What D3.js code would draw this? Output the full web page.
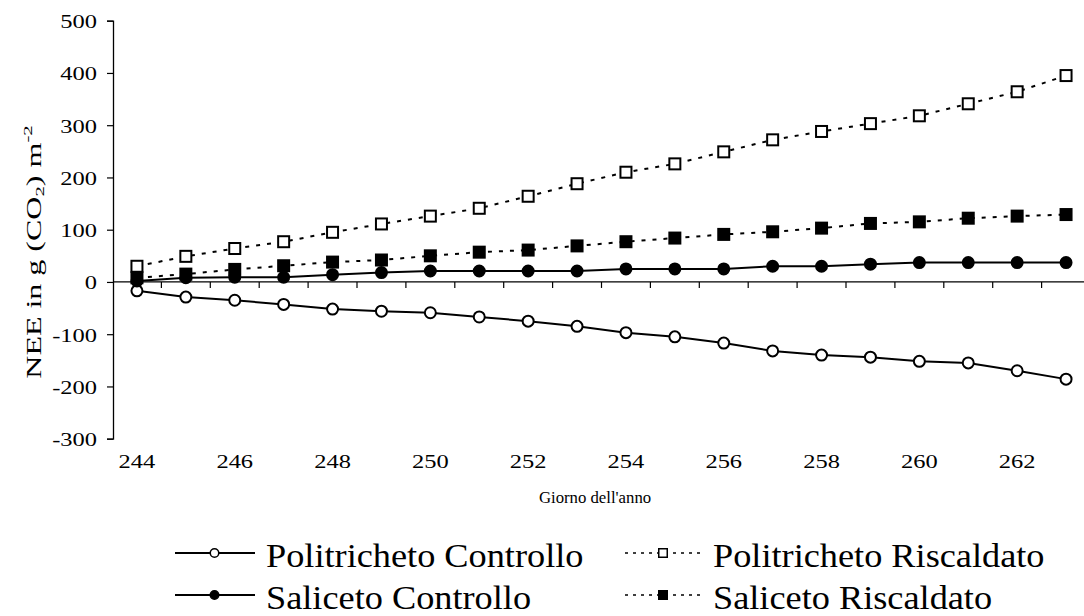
<!DOCTYPE html>
<html>
<head>
<meta charset="utf-8">
<script src="https://cdn.jsdelivr.net/npm/d3@7/dist/d3.min.js"></script>
<style>
  html, body { margin: 0; padding: 0; background: #fff; }
  svg { display: block; }
  text { font-family: "Liberation Serif", "Times New Roman", serif; fill: #000; }
</style>
</head>
<body>
<svg id="chart" width="1084" height="616"></svg>
<script>
// Day of year (category axis)
const days = [244, 245, 246, 247, 248, 249, 250, 251, 252, 253,
              254, 255, 256, 257, 258, 259, 260, 261, 262, 263];
const xTickLabels = [244, 246, 248, 250, 252, 254, 256, 258, 260, 262];
const yTicks = [-300, -200, -100, 0, 100, 200, 300, 400, 500];

// Cumulative NEE, g CO2 m-2
const politrichetoControllo = [-17, -29, -35, -43, -52, -56, -59, -67, -75, -85,
                               -97, -105, -117, -132, -140, -144, -152, -155, -170, -186];
const politrichetoRiscaldato = [30, 49, 64, 77, 95, 111, 126, 141, 164, 188,
                                210, 226, 249, 272, 288, 303, 318, 341, 364, 395];
const salicetoControllo = [2, 8, 9, 9, 14, 18, 21, 21, 21, 21,
                           25, 25, 25, 30, 30, 34, 37, 37, 37, 37];
const salicetoRiscaldato = [8, 15, 24, 31, 38, 42, 50, 57, 61, 69,
                            77, 84, 91, 96, 103, 112, 115, 122, 126, 129];

const seriesNames = ["Politricheto Controllo", "Politricheto Riscaldato",
                     "Saliceto Controllo", "Saliceto Riscaldato"];

const series = [
  { name: seriesNames[0], values: politrichetoControllo, marker: "circle", fill: "#fff", dash: null },
  { name: seriesNames[1], values: politrichetoRiscaldato, marker: "square", fill: "#fff", dash: "4,7" },
  { name: seriesNames[2], values: salicetoControllo, marker: "circle", fill: "#000", dash: null },
  { name: seriesNames[3], values: salicetoRiscaldato, marker: "square", fill: "#000", dash: "4,7" }
];

const svg = d3.select("#chart");

const x = d3.scaleBand().domain(days).range([112.5, 1090.5]).paddingInner(0).paddingOuter(0);
const y = d3.scaleLinear().domain([-300, 500]).range([438.7, 20.7]);
const cx = d => x(d) + x.bandwidth() / 2;

// Y axis with outward ticks
const yAxis = svg.append("g")
  .attr("transform", "translate(113,0)")
  .call(d3.axisLeft(y).tickValues(yTicks).tickSize(6).tickFormat(""));
yAxis.select(".domain").attr("stroke", "#000").attr("stroke-width", 1.3);
yAxis.selectAll(".tick line").attr("stroke", "#000").attr("stroke-width", 1.2);

svg.append("g").selectAll("text")
  .data(yTicks)
  .join("text")
  .attr("transform", d => `translate(97,${y(d) + 7.3}) scale(1.36,1)`)
  .attr("text-anchor", "end")
  .attr("font-size", 18)
  .text(d => d);

// X axis crossing at zero, ticks between categories
const x0 = y(0);
svg.append("line")
  .attr("x1", 113).attr("x2", 1090.5)
  .attr("y1", x0).attr("y2", x0)
  .attr("stroke", "#000").attr("stroke-width", 1.2);
svg.append("g").selectAll("line")
  .data(days.slice(1))
  .join("line")
  .attr("x1", d => x(d)).attr("x2", d => x(d))
  .attr("y1", x0).attr("y2", x0 + 6)
  .attr("stroke", "#000").attr("stroke-width", 1.2);

// Category labels sit below the plot area
svg.append("g").selectAll("text")
  .data(xTickLabels)
  .join("text")
  .attr("transform", d => `translate(${cx(d)},468) scale(1.36,1)`)
  .attr("text-anchor", "middle")
  .attr("font-size", 18)
  .text(d => d);

// Axis titles
svg.append("text")
  .attr("transform", "translate(595,503) scale(0.985,1)")
  .attr("text-anchor", "middle")
  .attr("font-size", 17)
  .text("Giorno dell'anno");

const yTitle = svg.append("text")
  .attr("transform", "translate(41,252) rotate(-90) scale(1.6,1)")
  .attr("text-anchor", "middle")
  .attr("font-size", 20);
yTitle.append("tspan").text("NEE in g (CO");
yTitle.append("tspan").attr("font-size", 13).attr("dy", 3).text("2");
yTitle.append("tspan").attr("dy", -3).text(") m");
yTitle.append("tspan").attr("font-size", 13).attr("dy", -9).text("-2");

// Series lines and markers
const line = d3.line().x((v, i) => cx(days[i])).y(v => y(v));

function drawMarker(sel, s, size) {
  if (s.marker === "circle") {
    sel.append("circle").attr("r", size / 2)
      .attr("fill", s.fill).attr("stroke", "#000").attr("stroke-width", 2);
  } else {
    sel.append("rect").attr("x", -size / 2).attr("y", -size / 2)
      .attr("width", size).attr("height", size)
      .attr("fill", s.fill).attr("stroke", "#000").attr("stroke-width", 2);
  }
}

series.forEach(s => {
  svg.append("path")
    .datum(s.values)
    .attr("d", line)
    .attr("fill", "none")
    .attr("stroke", "#000")
    .attr("stroke-width", 2)
    .attr("stroke-dasharray", s.dash);
});
series.forEach(s => {
  svg.append("g").selectAll("g")
    .data(s.values)
    .join("g")
    .attr("transform", (v, i) => `translate(${cx(days[i])},${y(v)})`)
    .each(function () { drawMarker(d3.select(this), s, 11); });
});

// Legend: two columns, two rows
const legendCols = [{ lx: 175, mx: 214.5, tx: 266 }, { lx: 625, mx: 663, tx: 713 }];
const legendRows = [553, 595];
const legendOrder = [0, 1, 2, 3];
legendOrder.forEach((k, j) => {
  const s = series[k];
  const col = legendCols[j % 2];
  const ly = legendRows[Math.floor(j / 2)];
  const g = svg.append("g");
  g.append("line")
    .attr("x1", col.lx).attr("x2", col.lx + (j % 2 ? 75 : 80))
    .attr("y1", ly).attr("y2", ly)
    .attr("stroke", "#000")
    .attr("stroke-width", s.dash ? 1.5 : 2)
    .attr("stroke-dasharray", s.dash ? "3,5" : null);
  const m = g.append("g").attr("transform", `translate(${col.mx},${ly})`);
  drawMarker(m, s, 8.5);
  m.selectAll("circle,rect").attr("stroke-width", 1.5);
  g.append("text")
    .attr("transform", `translate(${col.tx},${ly + 13.5}) scale(1.1,1)`)
    .attr("font-size", 33)
    .text(s.name);
});
</script>
</body>
</html>
